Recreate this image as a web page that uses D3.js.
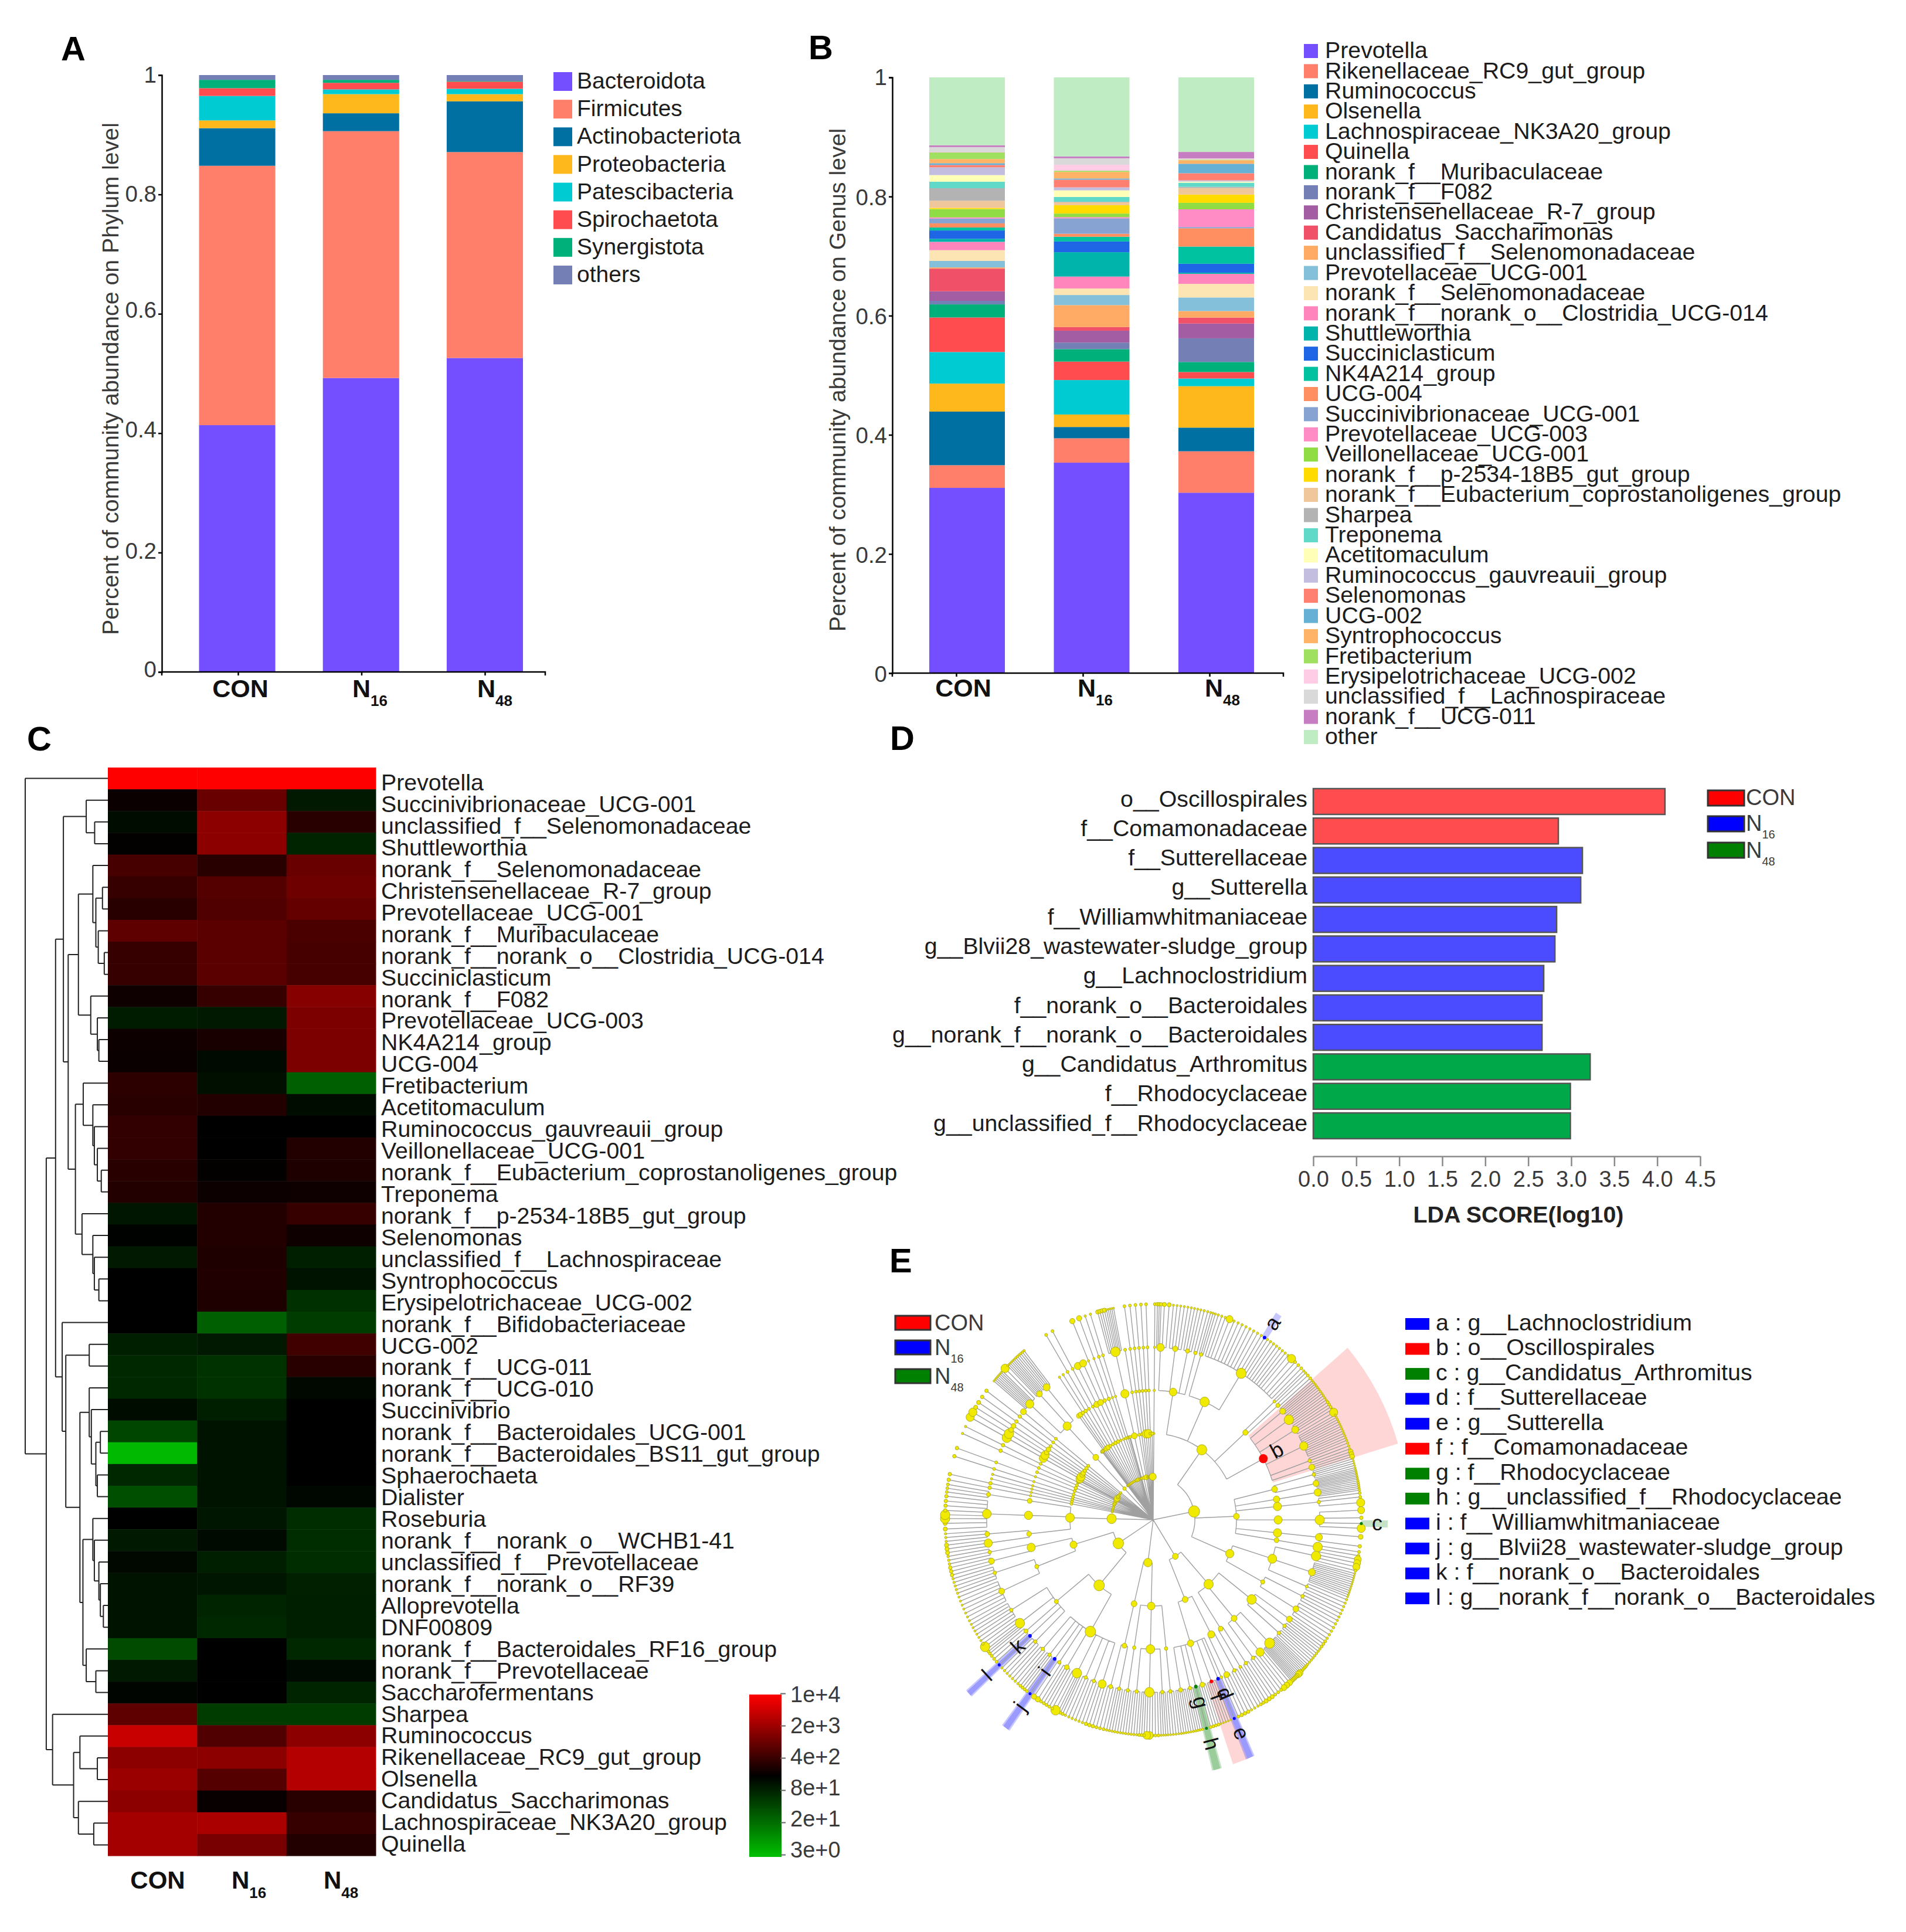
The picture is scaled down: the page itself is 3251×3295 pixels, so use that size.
<!DOCTYPE html>
<html><head><meta charset="utf-8">
<script src="https://cdnjs.cloudflare.com/ajax/libs/d3/7.8.5/d3.min.js"></script>
<style>html,body{margin:0;padding:0;background:#fff}svg{display:block}text{font-family:"Liberation Sans",Arial,sans-serif}</style>
</head><body><svg id="c" width="3251" height="3295" viewBox="0 0 3251 3295"></svg>
<script>
// ---------- Panel A data ----------
const groups = ["CON","N16","N48"];
const phyla = ["Bacteroidota","Firmicutes","Actinobacteriota","Proteobacteria","Patescibacteria","Spirochaetota","Synergistota","others"];
const phylaColors = ["#734fff","#ff7f6b","#0070a3","#ffb81c","#00cbd3","#ff4d4f","#00b07a","#7480b5"];
const phylaCON = [.4135,.4345,.063,.013,.041,.013,.014,.008];
const phylaN16 = [.4925,.4135,.030,.032,.008,.011,.005,.008];
const phylaN48 = [.526,.345,.085,.012,.009,.012,.001,.010];
const yTicks = [0,0.2,0.4,0.6,0.8,1];

// ---------- Panel B data ----------
const genera = ["Prevotella","Rikenellaceae_RC9_gut_group","Ruminococcus","Olsenella","Lachnospiraceae_NK3A20_group","Quinella","norank_f__Muribaculaceae","norank_f__F082","Christensenellaceae_R-7_group","Candidatus_Saccharimonas","unclassified_f__Selenomonadaceae","Prevotellaceae_UCG-001","norank_f__Selenomonadaceae","norank_f__norank_o__Clostridia_UCG-014","Shuttleworthia","Succiniclasticum","NK4A214_group","UCG-004","Succinivibrionaceae_UCG-001","Prevotellaceae_UCG-003","Veillonellaceae_UCG-001","norank_f__p-2534-18B5_gut_group","norank_f__Eubacterium_coprostanoligenes_group","Sharpea","Treponema","Acetitomaculum","Ruminococcus_gauvreauii_group","Selenomonas","UCG-002","Syntrophococcus","Fretibacterium","Erysipelotrichaceae_UCG-002","unclassified_f__Lachnospiraceae","norank_f__UCG-011","other"];
const generaColors = ["#734fff","#ff7f6b","#0070a3","#ffb81c","#00cbd3","#ff4d4f","#00b07a","#7480b5","#a35ea3","#f05068","#ffab66","#85c0db","#fde5b3","#ff85bc","#00b4ab","#1e66e6","#00c2a0","#ff8f60","#87a3d1","#ff8cc4","#8fdc45","#ffdb00","#f0c79a","#b3b3b3","#60d9c9","#ffffb8","#c3bde0","#ff8070","#66b0d6","#ffb366","#a0e060","#ffcce5","#d9d9d9","#c77dc2","#c0ecc4"];
const generaCON = [.311,.038,.090,.047,.053,.058,.022,.006,.016,.038,.002,.011,.018,.014,.005,.014,.005,.007,.008,.002,.014,.002,.012,.021,.011,.011,.013,.004,.003,.007,.011,.001,.008,.003,.114];
const generaN16 = [.354,.041,.019,.021,.058,.031,.021,.011,.020,.006,.037,.017,.011,.020,.041,.018,.008,.005,.026,.002,.006,.014,.005,.001,.008,.011,.005,.013,.002,.011,.002,.010,.011,.003,.133];
const generaN48 = [.305,.070,.040,.070,.013,.011,.017,.040,.025,.010,.011,.023,.023,.017,.002,.015,.029,.031,.002,.030,.011,.014,.011,.002,.007,.002,.002,.012,.016,.006,.001,.001,.001,.011,.126];

// ---------- Panel C data ----------
const heatRows = ["Prevotella","Succinivibrionaceae_UCG-001","unclassified_f__Selenomonadaceae","Shuttleworthia","norank_f__Selenomonadaceae","Christensenellaceae_R-7_group","Prevotellaceae_UCG-001","norank_f__Muribaculaceae","norank_f__norank_o__Clostridia_UCG-014","Succiniclasticum","norank_f__F082","Prevotellaceae_UCG-003","NK4A214_group","UCG-004","Fretibacterium","Acetitomaculum","Ruminococcus_gauvreauii_group","Veillonellaceae_UCG-001","norank_f__Eubacterium_coprostanoligenes_group","Treponema","norank_f__p-2534-18B5_gut_group","Selenomonas","unclassified_f__Lachnospiraceae","Syntrophococcus","Erysipelotrichaceae_UCG-002","norank_f__Bifidobacteriaceae","UCG-002","norank_f__UCG-011","norank_f__UCG-010","Succinivibrio","norank_f__Bacteroidales_UCG-001","norank_f__Bacteroidales_BS11_gut_group","Sphaerochaeta","Dialister","Roseburia","norank_f__norank_o__WCHB1-41","unclassified_f__Prevotellaceae","norank_f__norank_o__RF39","Alloprevotella","DNF00809","norank_f__Bacteroidales_RF16_group","norank_f__Prevotellaceae","Saccharofermentans","Sharpea","Ruminococcus","Rikenellaceae_RC9_gut_group","Olsenella","Candidatus_Saccharimonas","Lachnospiraceae_NK3A20_group","Quinella"];
const heatCON = [10000,199,132,178,520,410,322,775,410,410,216,94,206,199,349,322,377,377,322,298,107,163,100,170,170,170,90,73,73,132,39,3.5,73,32,170,100,144,116,116,116,35,100,153,775,4150,1593,2030,1593,2380,2380];
const heatN16 = [10000,910,1593,1593,322,661,610,716,716,716,410,100,254,138,124,298,170,170,178,206,298,298,275,284,275,23,100,59,59,90,116,116,116,116,107,138,90,107,81,73,170,170,170,48,610,1593,661,193,2590,1156];
const heatN48 = [10000,100,322,81,910,986,840,563,520,520,1469,1253,1253,1253,23,132,170,298,275,216,410,216,90,116,62,48,480,322,144,170,170,170,170,150,66,66,66,87,90,90,73,138,81,48,1593,3030,3030,322,410,298];
const heatTickLabels = ["1e+4","2e+3","4e+2","8e+1","2e+1","3e+0"];
// merge height, then two children; 0 is a leaf, leaves follow row order
const dendro = [275,0,[205,
  [174,
    [148,
      [72,0,[44,0,0]],
      [132,
        [98,
          [50,0,[40,[18,0,0],[32,0,[12,0,0]]]],
          [57,0,[35,0,[30,0,0]]]],
        [108,
          [82,0,[50,0,[45,0,[35,0,[22,0,0]]]]],
          [86,0,[50,0,[45,0,[30,0,0]]]]]]],
    [152,0,
      [140,
        [62,0,0],
        [93,
          [62,0,[55,0,[40,[25,0,0],[35,0,0]]]],
          [83,
            [50,0,[45,0,[30,0,[25,0,[15,0,0]]]]],
            [72,0,[40,0,0]]]]]]],
  [184,0,
    [114,
      [93,0,[35,0,0]],
      [98,0,[47,0,0]]]]]];

// ---------- Panel D data ----------
const ldaLabels = ["o__Oscillospirales","f__Comamonadaceae","f__Sutterellaceae","g__Sutterella","f__Williamwhitmaniaceae","g__Blvii28_wastewater-sludge_group","g__Lachnoclostridium","f__norank_o__Bacteroidales","g__norank_f__norank_o__Bacteroidales","g__Candidatus_Arthromitus","f__Rhodocyclaceae","g__unclassified_f__Rhodocyclaceae"];
const ldaValues = [4.09,2.85,3.13,3.11,2.83,2.81,2.68,2.66,2.66,3.22,2.99,2.99];
const ldaGroups = ["CON","CON","N16","N16","N16","N16","N16","N16","N16","N48","N48","N48"];
const ldaTicks = [0,.5,1,1.5,2,2.5,3,3.5,4,4.5];
const groupFill = {CON:"#ff4d4f",N16:"#4b4bff",N48:"#00a84a"};
const groupPure = {CON:"#ff0000",N16:"#0000ff",N48:"#008000"};

// ---------- Panel E data ----------
const cladeKey = [["a","g__Lachnoclostridium","N16"],["b","o__Oscillospirales","CON"],["c","g__Candidatus_Arthromitus","N48"],["d","f__Sutterellaceae","N16"],["e","g__Sutterella","N16"],["f","f__Comamonadaceae","CON"],["g","f__Rhodocyclaceae","N48"],["h","g__unclassified_f__Rhodocyclaceae","N48"],["i","f__Williamwhitmaniaceae","N16"],["j","g__Blvii28_wastewater-sludge_group","N16"],["k","f__norank_o__Bacteroidales","N16"],["l","g__norank_f__norank_o__Bacteroidales","N16"]];
// [node size, ...children]; "n:span:size:mark" = n tips over span; "~depth:n:span:sizes" = n unbranched lineages, one size per ring
const cladeTree = [0,
 "~5:1:.9:2,2,2,2,2.5",
 [9.5,
  [8.5,
    [6.5,[6.5,"3:1.5:3","2:2.6:3.5"],[4.5,"5:5:1.8"],[3.5,"4:3.5:1.8"],[3,"2:2:2"]],
    [8,[3,"3:2:1.8"],[8.5,"3:3:2","1:1.5:6","8:9.5:2","1:.9:3:a","8:8:2","1:1.5:7","3:3.5:2.5"]],
    [4.5,[2.5,"2:1.5:2"],[3.5,"2:2:2.5"]],
    ["7.5:b",[5,"5:3:1.8"],[8,"6:4:1.8"],[6,"4:3:2.5","1:1:7"],[7,"12:8:1.8"],[3,"3:2.5:2"],[5,"3:2:4"]]],
  [5,
    [5,[3,"5:3:1.6"],[5,"7:3:1.6"]],
    [5.5,[6,"6:3:2"]],
    [7,[3,"2:2:2.5","1:2:7"]],
    [7,[8,"1:2:6","1:2:3","1:1:2.5:c","1:1.5:7"]],
    [7,[6,"1:3:4","1:2:3"]],
    [4,[8,"2:2:2.5"]]],
  [7,
    [7.5,[8,"3:3:6","1:1:2.5"],[6,"12:7:1.6"],[2.5,"3:3:2"]],
    [3.5,[3,"4:4:2"],[5,"5:5.5:2.2"]]]],
 [5,
  [8,
    [8,[5,"3:2.5:2.5"],[3,"4:3:2"],[3,"4:3:2"]],
    [5,[8.5,"5:2.5:2.5","2:1:5.5","6:2.5:3.5"],[7,"3:3:5"],[3,"3:3:2.5"]],
    [4,[3,"3:3:3.5"],[2.5,"2:1.6:2.5"]]],
  [5,
    [6,[3,"3:3:2"],[5,"3:3:3"]],
    [5.5,[2.5,"1:1:2.5"],["3:d","1:1.4:2.5:e"],["3:f","5:3.5:1.5"],[4,"4:3:2.5"],["3:g","1:1.6:2.5:h"],[3,"4:2.5:2"],[3.5,"6:4:1.8"]]]],
 [7,
  [6.5,
    [3,[3,"4:3:1.8"]],
    [7.5,[3,"4:2.5:1.8"],[8,"3:2.5:2.5","2:1.5:6.5","3:2:2.5"],[3,"4:3:2"]],
    [3,[3,"4:3:2"]]],
  [5,
    [4,[3,"4:3:2"],[3.5,"3:3:2.5"]]]],
 [9,
  [9,
    [9,[7,"3:3:3"],[3,"3:3:2"],[3,"3:3:2"],[8,"3:2:2.5","1:1:8","1:1:2.5"],[4,"4:3.5:2.5"],[3,"2:2.5:4.5"],["3:i","1:1.4:2.5:j"],[3,"4:3:2.5"],[3,"3:3:2"]],
    [3.5,[3,"4:4:2"],["3:k","1:1.2:2.5:l"],[3.5,"3:3:2.5"],[8,"3:2:2.5","1:1:8","1:1:2.5"],[3,"6:6:1.8"]]],
  [6,
    [3.5,[5,"7:8:1.8"],[3,"5:5:2"]],
    [7,[5,"3:3:3"],[3,"3:3:2.2"]]]],
 [8,
  [7.5,
    [4,[7,"3:3:3.5"],[4,"3:3:2"]],
    [7,[7.5,"2:3:3.5","2:2:8","4:5:3"]],
    [4,[3.5,"3:3:2.5"]]]],
 "~5:2:3:2,2.5,2,3,3","~4:2:3:2,2.5,2,2","~5:2:4.5:2,2.5,2,2.5,3","~3:1:2:3,3,2.5","~5:2:4:3,2.5,2.5,3,2","~2:2:1:2,4",
 "~5:2:3:5,7,7,8,7","~5:2:3:3,4,4,4,3.5","~5:2:4:2,3,2.5,3,3","~4:1:2:2,2.5,2.5,5",
 [3,[5,[7,[7,"8:4:1.6","1:1.5:7"],[5,"6:3:1.6"],[6,"6:3.5:2"]]]],
 "~2:2:1:2,3","~3:2:2:2,2.5,4","~4:2:3:2,4,3,2","~5:2:4:2,2.5,2.5,2.5,2.5","~4:2:4:2,3,5,6","~5:2:4:3,2,3,2,4.5","~5:2:3:2,2.5,2,2.5,2","~2:2:1:2,2.5",
 [3,[5,[7,[8,"4:2.5:3.5","5:2.5:1.6"]]]],
 "~4:1:2:4,2.5,2.5,2.5","~5:2:3:2,2.5,2.5,2.5,2.5","~5:2:3:2.5,7,2.5,2.5,2.5","~5:1:1.3:5,2.5,2.5,2.5,2.5","~2:1:1.3:6,2.5"
];

// ---------- helpers ----------
const svg = d3.select("#c");
const INK="#1c1c1c", SOFT="#3a3a3a", LABEL=39.3;
function txt(p,x,y,s,o={}){
  const t=p.append("text").attr("x",x).attr("y",y).text(s)
    .attr("font-size",o.size||LABEL).attr("fill",o.fill||INK)
    .attr("text-anchor",o.anchor||"start").attr("font-weight",o.weight||"normal");
  if(o.dy) t.attr("dy",o.dy);
  if(o.rotate!==undefined) t.attr("transform",`rotate(${o.rotate} ${x} ${y})`);
  return t;
}
function groupLabel(p,x,y,name,o){
  const t=p.append("text").attr("x",x).attr("y",y).attr("font-size",o.size).attr("fill",o.fill||INK).attr("font-weight",o.weight||"normal");
  if(name==="CON"){t.attr("text-anchor",o.conAnchor||"start").text("CON");return;}
  t.append("tspan").text("N");
  t.append("tspan").attr("font-size",o.sub).attr("dy",o.subDy).attr("dx",o.subDx||0).text(name.slice(1));
}
function panel(l,x,y){txt(svg,x,y,l,{size:58,weight:"bold",fill:"#000"});}
panel("A",104,103);panel("B",1379,101);panel("C",46,1280);panel("D",1518,1279);panel("E",1517,2170);

function stackedPanel(cfg){
  const g=svg.append("g");
  const table=groups.map((n,i)=>{const r={group:n};cfg.names.forEach((k,j)=>r[k]=cfg.series[i][j]);return r;});
  const stack=d3.stack().keys(cfg.names).offset(d3.stackOffsetExpand)(table);
  const x=d3.scaleBand(groups,cfg.bars).paddingInner(cfg.pad);
  const y=d3.scaleLinear([0,1],[cfg.y0,cfg.y1]);
  g.selectAll("g.s").data(stack).join("g").attr("fill",(d,i)=>cfg.colors[i])
    .selectAll("rect").data(d=>d).join("rect")
    .attr("x",d=>x(d.data.group)).attr("width",x.bandwidth())
    .attr("y",d=>y(d[1])).attr("height",d=>y(d[0])-y(d[1]));
  const ya=g.append("g").attr("transform",`translate(${cfg.ax},0)`)
    .call(d3.axisLeft(y).tickValues(yTicks).tickFormat(d=>d).tickSize(6).tickPadding(3));
  ya.selectAll("text").attr("font-size",38.5).attr("fill",SOFT).attr("font-family",null)
    .attr("y",(d,i)=>cfg.tickLabelShift[i]);
  ya.selectAll("path,line").attr("stroke","#000").attr("stroke-width",2.5);
  const tx=d3.scalePoint(groups,cfg.ticks);
  const xa=g.append("g").attr("transform",`translate(0,${cfg.y0})`)
    .call(d3.axisBottom(tx).tickSize(6).tickFormat(""));
  xa.select(".domain").attr("d",`M${cfg.ax},6V0H${cfg.right}V6`);
  xa.selectAll("path,line").attr("stroke","#000").attr("stroke-width",2.5);
  groups.forEach((n,i)=>groupLabel(g,cfg.labelX[i],cfg.labelY,n,{size:43,sub:26,subDy:15,weight:"bold",fill:"#111",conAnchor:"middle"}));
  const mid=(cfg.y0+cfg.y1)/2-cfg.titleLift;
  txt(g,cfg.titleX,mid,cfg.title,{size:LABEL,anchor:"middle",rotate:-90,fill:SOFT});
  const ly=d3.scalePoint(cfg.names,cfg.legendY);
  const lg=g.selectAll("g.l").data(cfg.names).join("g").attr("transform",d=>`translate(0,${ly(d)})`);
  lg.append("rect").attr("x",cfg.swX).attr("width",cfg.swW).attr("y",-cfg.swH/2).attr("height",cfg.swH).attr("fill",(d,i)=>cfg.colors[i]);
  lg.append("text").attr("x",cfg.swX+cfg.swW+cfg.lgap).attr("dy",".31em").attr("font-size",cfg.lsize).attr("fill",INK).text(d=>d);
}
stackedPanel({names:phyla,colors:phylaColors,series:[phylaCON,phylaN16,phylaN48],bars:[339.5,892],pad:.384,y0:1146,y1:128,ax:276,right:930,ticks:[406,827],
  labelX:[410,601,814],labelY:1189,title:"Percent of community abundance on Phylum level",titleX:202,titleLift:-9,tickLabelShift:[-4,-2,-6,-6,0,0],
  legendY:[139,469],swX:944,swW:32,swH:32,lgap:8,lsize:39});
stackedPanel({names:genera,colors:generaColors,series:[generaCON,generaN16,generaN48],bars:[1585,2139],pad:.393,y0:1148,y1:132,ax:1522,right:2189,ticks:[1631,2063],
  labelX:[1643,1838,2055],labelY:1188,title:"Percent of community abundance on Genus level",titleX:1442,titleLift:-8,tickLabelShift:[2,2,2,2,2,0],
  legendY:[87,1257],swX:2224,swW:24,swH:24,lgap:12,lsize:LABEL});

// ---------- Panel C ----------
(function(){
  const g=svg.append("g");
  const color=d3.scaleLog().domain([3,170,1e4]).range(["#00c000","#000000","#ff0000"]).clamp(true);
  const cols=[[heatCON,"CON"],[heatN16,"N16"],[heatN48,"N48"]];
  const x=d3.scaleBand(groups,[184,641]);
  const y=d3.scaleBand(heatRows,[1309,3165]);
  cols.forEach(([vals,name])=>{
    g.append("g").selectAll("rect").data(vals).join("rect")
      .attr("x",x(name)).attr("width",x.bandwidth()+.5)
      .attr("y",(d,i)=>y(heatRows[i])).attr("height",y.bandwidth()+.5)
      .attr("fill",d=>color(d));
  });
  const ly=d3.scalePoint(heatRows,[1334,3144]);
  g.selectAll("text.r").data(heatRows).join("text").attr("x",650).attr("y",d=>ly(d)).attr("dy",".36em").attr("font-size",LABEL).attr("fill",INK).text(d=>d);
  const lx=[269,395,552];
  groups.forEach((n,i)=>groupLabel(g,lx[i],3221,n,{size:42,sub:26,subDy:16,weight:"bold",fill:"#111",conAnchor:"middle"}));
  // dendrogram
  const root=d3.hierarchy(dendro,d=>Array.isArray(d)?d.slice(1):null);
  const hx=d3.scaleLinear([0,275],[184,43]);
  let k=0; const leafY=root.leaves().map(()=>y(heatRows[k++])+y.bandwidth()/2);
  k=0; root.eachAfter(n=>{
    if(!n.children){n.py=leafY[k++];n.px=hx(0);}
    else{n.py=d3.mean(n.children,c=>c.py);n.px=hx(n.data[0]);}
  });
  const path=d3.path();
  root.descendants().filter(n=>n.children).forEach(n=>{
    const ys=n.children.map(c=>c.py);
    path.moveTo(n.px,d3.min(ys));path.lineTo(n.px,d3.max(ys));
    n.children.forEach(c=>{path.moveTo(n.px,c.py);path.lineTo(c.px,c.py);});
  });
  g.append("path").attr("d",path.toString()).attr("fill","none").attr("stroke","#222").attr("stroke-width",2);
  // colour bar
  const defs=svg.append("defs");
  const lg=defs.append("linearGradient").attr("id","hg").attr("x1",0).attr("x2",0).attr("y1",0).attr("y2",1);
  const bar=d3.scaleLog([1e4,3],[0,1]);
  [1e4,3000,1000,500,170,80,30,15,8,3].forEach(v=>lg.append("stop").attr("offset",bar(v)).attr("stop-color",color(v)));
  g.append("rect").attr("x",1278).attr("y",2890).attr("width",55).attr("height",277).attr("fill","url(#hg)");
  const tk=d3.scalePoint(heatTickLabels,[2888,3163]);
  const labelY=d3.scalePoint(heatTickLabels,[2890,3155]);
  const ax=g.append("g").attr("transform","translate(1331,0)").call(d3.axisRight(tk).tickSize(9).tickPadding(8));
  ax.select(".domain").remove();
  ax.selectAll("line").attr("stroke","#666").attr("stroke-width",2);
  ax.selectAll("text").attr("font-size",38).attr("fill",SOFT).attr("font-family",null).attr("y",d=>labelY(d)-tk(d));
})();

// ---------- Panel D ----------
(function(){
  const g=svg.append("g");
  const x=d3.scaleLinear([0,4.5],[2240,2900]);
  const y=d3.scaleBand(ldaLabels,[1341.85,1945.15]).paddingInner(.125).paddingOuter(.0625);
  g.selectAll("rect.b").data(ldaLabels).join("rect")
    .attr("x",x(0)).attr("y",d=>y(d)).attr("height",y.bandwidth())
    .attr("width",(d,i)=>x(ldaValues[i])-x(0))
    .attr("fill",(d,i)=>groupFill[ldaGroups[i]]).attr("stroke","#555").attr("stroke-width",2.5);
  g.selectAll("text.l").data(ldaLabels).join("text").attr("x",2230).attr("y",d=>y(d)+y.bandwidth()/2)
    .attr("dy",".22em").attr("text-anchor","end").attr("font-size",LABEL).attr("fill",INK).text(d=>d);
  const ax=g.append("g").attr("transform","translate(0,1972)")
    .call(d3.axisBottom(x).tickValues(ldaTicks).tickFormat(d3.format(".1f")).tickSize(17).tickPadding(8).tickSizeOuter(0));
  ax.selectAll("path,line").attr("stroke","#8a8a8a").attr("stroke-width",2.5);
  ax.selectAll("text").attr("font-size",38).attr("fill",SOFT).attr("font-family",null);
  txt(g,2590,2085,"LDA SCORE(log10)",{size:LABEL,anchor:"middle",weight:"bold",fill:"#222"});
  const ly=[[1361,1360],[1405,1404],[1450,1450]];
  groups.forEach((n,i)=>{
    g.append("rect").attr("x",2913).attr("y",ly[i][0]-13).attr("width",62).attr("height",26).attr("fill",groupPure[n]).attr("stroke","#333").attr("stroke-width",3);
    groupLabel(g,2978,ly[i][1]+13,n,{size:38,sub:20,subDy:13,subDx:0,fill:SOFT});
  });
})();

// ---------- Panel E ----------
(function(){
  const outer=svg.append("g");
  const g=outer.append("g").attr("transform","translate(1967,2592) scale(1,1.036)");
  const stretch=1.036;
  function build(spec){
    if(typeof spec==="string"){
      const f=spec.split(":");
      if(spec[0]==="~"){
        const depth=+f[0].slice(1),n=+f[1],w=+f[2],sizes=f[3].split(",").map(Number);
        return d3.range(n).map(()=>{
          let node={s:sizes[depth-1],w:w/n};
          for(let i=depth-2;i>=0;i--) node={s:sizes[i],children:[node]};
          return node;
        });
      }
      const n=+f[0],w=+f[1],s=+f[2];
      return d3.range(n).map(()=>({s,w:w/n,mark:f[3]}));
    }
    const head=String(spec[0]).split(":");
    return [{s:+head[0],mark:head[1],children:spec.slice(1).flatMap(build)}];
  }
  const root=d3.hierarchy(build(cladeTree)[0]).sum(d=>d.w||0);
  d3.partition().size([360,1])(root);
  root.eachAfter(n=>{n.th=n.children?d3.mean(n.children,c=>c.th):(n.x0+n.x1)/2;});
  const rad=d3.scaleLinear([0,5],[0,355]);
  const toRad=d=>d*Math.PI/180;
  const groupOf=Object.fromEntries(cladeKey.map(d=>[d[0],d[2]]));
  const marked=root.descendants().filter(n=>n.data.mark);
  const wedge=d3.arc();
  const outerBy={3:436,4:425,5:400};
  const nested=new Set(["e","h","j","l"]);
  g.selectAll("path.w").data(marked).join("path")
    .attr("d",n=>{
      const pad=n.depth===5?.35:0;
      return wedge({innerRadius:n.depth===5?(nested.has(n.data.mark)?284:355):rad(n.depth),
        outerRadius:nested.has(n.data.mark)?425:outerBy[n.depth],
        startAngle:toRad(n.x0-pad),endAngle:toRad(n.x1+pad)});
    })
    .attr("fill",n=>groupPure[groupOf[n.data.mark]]).attr("fill-opacity",n=>groupOf[n.data.mark]==="CON"?.16:.22);
  const links=d3.path();
  const rline=d3.lineRadial().context(links);
  const arc=d3.arc().context(links);
  root.descendants().filter(n=>n.children).forEach(n=>{
    const r=rad(n.depth);
    const ths=n.children.map(c=>c.th);
    const a0=d3.min(ths),a1=d3.max(ths);
    if(n.depth>0&&a1>a0) arc({innerRadius:r,outerRadius:r,startAngle:toRad(a0),endAngle:toRad(a1)});
    n.children.forEach(c=>rline([[toRad(c.th),r],[toRad(c.th),rad(c.depth)]]));
  });
  g.append("path").attr("d",links.toString()).attr("fill","none").attr("stroke","#a0a0a0").attr("stroke-width",1.4);
  const pts=root.descendants().filter(n=>n.depth>0).sort((a,b)=>(a.data.mark?1:0)-(b.data.mark?1:0));
  g.selectAll("circle").data(pts).join("circle")
    .attr("cx",n=>d3.pointRadial(toRad(n.th),rad(n.depth))[0])
    .attr("cy",n=>d3.pointRadial(toRad(n.th),rad(n.depth))[1])
    .attr("r",n=>n.data.s)
    .attr("fill",n=>n.data.mark?groupPure[groupOf[n.data.mark]]:"#f0e900")
    .attr("stroke",n=>n.data.mark?"none":"#aca71c").attr("stroke-width",.9);
  marked.forEach(n=>{
    const p=d3.pointRadial(toRad(n.th),rad(n.depth)+27);
    const X=1967+p[0],Y=2592+p[1]*stretch;
    const rot=n.th<180?n.th-90:n.th-270;
    outer.append("text").attr("x",X).attr("y",Y).attr("dy",".3em").attr("text-anchor","middle").attr("font-size",36).attr("fill","#111")
      .attr("transform",`rotate(${rot} ${X} ${Y})`).text(n.data.mark);
  });
  // group legend
  const ly=[2256,2298,2347];
  groups.forEach((n,i)=>{
    outer.append("rect").attr("x",1527).attr("y",ly[i]-12).attr("width",60).attr("height",24).attr("fill",groupPure[n]).attr("stroke","#333").attr("stroke-width",3);
    groupLabel(outer,1594,ly[i]+13,n,{size:38,sub:20,subDy:13,subDx:0,fill:SOFT});
  });
  // key list
  const ky=d3.scalePoint(cladeKey.map(d=>d[0]),[2258,2726]);
  const kr=outer.selectAll("g.k").data(cladeKey).join("g").attr("transform",d=>`translate(0,${ky(d[0])})`);
  kr.append("rect").attr("x",2397).attr("y",-10).attr("width",41).attr("height",20).attr("fill",d=>groupPure[d[2]]);
  kr.append("text").attr("x",2449).attr("dy",".27em").attr("font-size",LABEL).attr("fill",INK).text(d=>`${d[0]} : ${d[1]}`);
})();
</script></body></html>
